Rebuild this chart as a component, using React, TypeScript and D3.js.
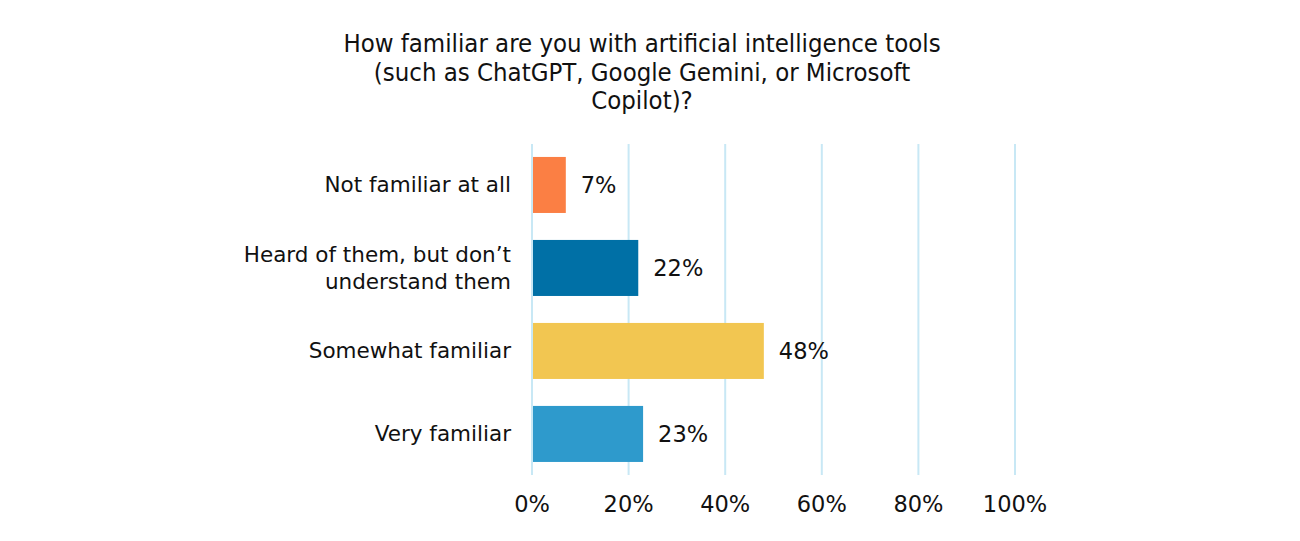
import { useEffect, useRef } from 'react';
import * as d3 from 'd3';

// survey answers, top to bottom
const categories = [
  'Not familiar at all',
  'Heard of them, but don\u2019t\nunderstand them',
  'Somewhat familiar',
  'Very familiar',
];
const shares = [7, 22, 48, 23];
const barColors = ['#fb7f44', '#0070a6', '#f2c651', '#2e9acc'];
const ticks = [0, 20, 40, 60, 80, 100];
const titleLines = [
  'How familiar are you with artificial intelligence tools',
  '(such as ChatGPT, Google Gemini, or Microsoft',
  'Copilot)?',
];

const W = 1300;
const H = 541;

const App = () => {
  const ref = useRef<SVGSVGElement>(null);

  useEffect(() => {
    const svg = d3.select(ref.current);
    svg.selectAll('*').remove();

    const left = 532;
    const right = 1015;
    const top = 144;
    const bottom = 475;

    const x = d3.scaleLinear().domain([0, 100]).range([left, right]);
    const y = d3.scaleBand<number>()
      .domain(d3.range(categories.length))
      .range([144.5, 474.4])
      .paddingInner(0.325)
      .paddingOuter(0.15);

    // title
    svg.append('text')
      .attr('x', 642)
      .attr('y', 52)
      .attr('text-anchor', 'middle')
      .style('font-family', '"DejaVu Sans Condensed", "DejaVu Sans", sans-serif')
      .style('font-size', '25.5px')
      .style('fill', '#111')
      .selectAll('tspan')
      .data(titleLines)
      .enter()
      .append('tspan')
      .attr('x', 642)
      .attr('dy', (_, i) => (i === 0 ? 0 : 28.5))
      .text((d) => d);

    // vertical gridlines
    svg.append('g')
      .selectAll('line')
      .data(ticks)
      .enter()
      .append('line')
      .attr('x1', (d) => x(d))
      .attr('x2', (d) => x(d))
      .attr('y1', top)
      .attr('y2', bottom)
      .style('stroke', '#c8e8f5')
      .style('stroke-width', 2);

    // bars
    svg.append('g')
      .selectAll('rect')
      .data(shares)
      .enter()
      .append('rect')
      .attr('x', x(0) + 1)
      .attr('y', (_, i) => y(i)!)
      .attr('width', (d) => x(d) - x(0) - 1)
      .attr('height', y.bandwidth())
      .style('fill', (_, i) => barColors[i]);

    const font = '"DejaVu Sans", Verdana, sans-serif';

    // value labels
    svg.append('g')
      .selectAll('text')
      .data(shares)
      .enter()
      .append('text')
      .attr('x', (d) => x(d) + 15)
      .attr('y', (_, i) => y(i)! + y.bandwidth() / 2)
      .attr('dy', '0.35em')
      .style('font-family', font)
      .style('font-size', '22.5px')
      .style('fill', '#111')
      .text((d) => `${d}%`);

    // category labels, right aligned against the axis
    const cat = svg.append('g')
      .selectAll('text')
      .data(categories)
      .enter()
      .append('text')
      .attr('text-anchor', 'end')
      .style('font-family', font)
      .style('font-size', '21.5px')
      .style('fill', '#111');
    cat.each(function (d, i) {
      const lines = d.split('\n');
      const cy = y(i)! + y.bandwidth() / 2;
      const lh = 27;
      d3.select(this)
        .selectAll('tspan')
        .data(lines)
        .enter()
        .append('tspan')
        .attr('x', 511)
        .attr('y', (_, j) => cy + (j - (lines.length - 1) / 2) * lh)
        .attr('dy', '0.35em')
        .text((t) => t);
    });

    // tick labels under the plot
    svg.append('g')
      .selectAll('text')
      .data(ticks)
      .enter()
      .append('text')
      .attr('x', (d) => x(d))
      .attr('y', 504)
      .attr('dy', '0.35em')
      .attr('text-anchor', 'middle')
      .style('font-family', font)
      .style('font-size', '22.5px')
      .style('fill', '#111')
      .text((d) => `${d}%`);
  }, []);

  return (
    <svg ref={ref} width={W} height={H} style={{ display: 'block', position: 'absolute', left: 0, top: 0, background: '#fff' }} />
  );
};

export default App;
